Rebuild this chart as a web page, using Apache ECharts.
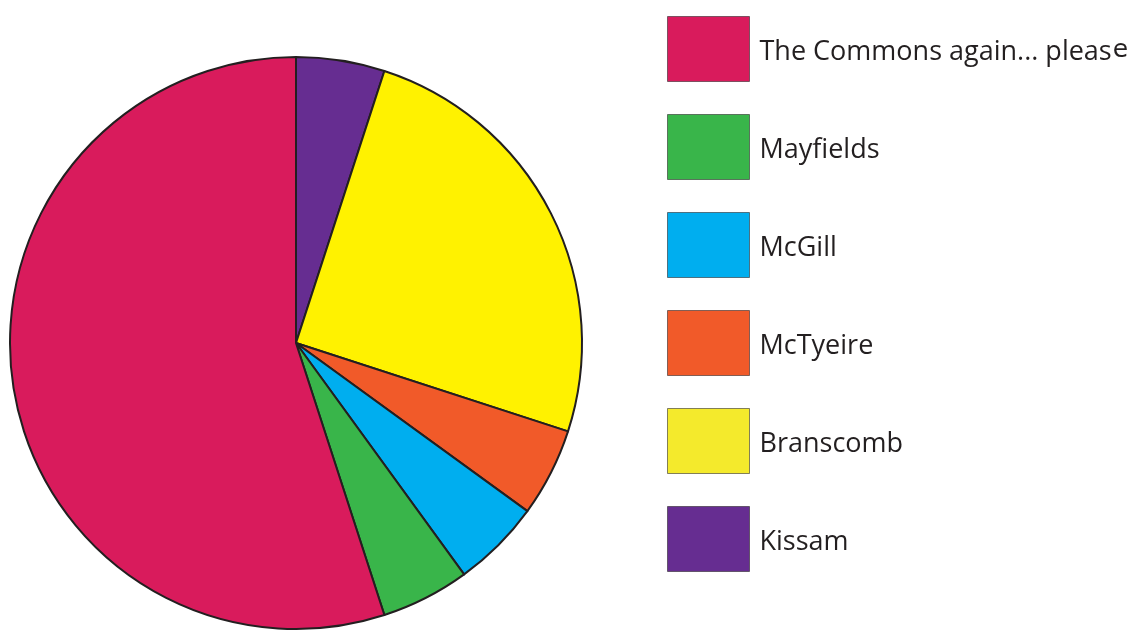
<!DOCTYPE html>
<html>
<head>
<meta charset="utf-8">
<script src="https://cdn.jsdelivr.net/npm/echarts@6/dist/echarts.min.js"></script>
<style>
  html, body { margin: 0; padding: 0; background: #ffffff; }
  #chart { width: 1133px; height: 631px; }
</style>
</head>
<body>
<div id="chart"></div>
<script>
// Dining spots, in slice order clockwise from 12 o'clock
const places = ['Kissam', 'Branscomb', 'McTyeire', 'McGill', 'Mayfields', 'The Commons again... please'];
const votes = [1, 5, 1, 1, 1, 11];
const sliceColors = ['#662d91', '#fff200', '#f15a29', '#00aeef', '#39b54a', '#d91b5c'];

// Legend reads top to bottom
const legendOrder = ['The Commons again... please', 'Mayfields', 'McGill', 'McTyeire', 'Branscomb', 'Kissam'];

const chart = echarts.init(document.getElementById('chart'), null, { renderer: 'canvas' });

chart.setOption({
  animation: false,
  backgroundColor: '#ffffff',
  legend: {
    orient: 'vertical',
    left: 662,
    top: 11,
    itemWidth: 82,
    itemHeight: 65,
    itemGap: 32,
    icon: 'rect',
    selectedMode: false,
    itemStyle: { borderColor: 'rgba(35,31,32,0.55)', borderWidth: 1 },
    data: legendOrder.map(name => name === 'Branscomb'
      ? { name, itemStyle: { color: '#f4ea2c' } }
      : { name }),
    formatter: name => name === 'The Commons again... please'
      ? '{t|The Commons again... pleas}{e|e}'
      : '{t|' + name + '}',
    textStyle: {
      rich: {
        t: { fontFamily: 'Open Sans', fontSize: 27, color: '#231f20', padding: [7, 0, 0, 5] },
        e: { fontFamily: 'DejaVu Sans', fontSize: 25, color: '#231f20', padding: [7, 0, 4, 1] }
      }
    }
  },
  series: [{
    type: 'pie',
    center: [296, 343],
    radius: 286,
    startAngle: 90,
    clockwise: true,
    label: { show: false },
    labelLine: { show: false },
    emphasis: { disabled: true },
    itemStyle: { borderColor: '#231f20', borderWidth: 2 },
    data: places.map((name, i) => ({
      name,
      value: votes[i],
      itemStyle: { color: sliceColors[i] }
    }))
  }]
});
</script>
</body>
</html>
